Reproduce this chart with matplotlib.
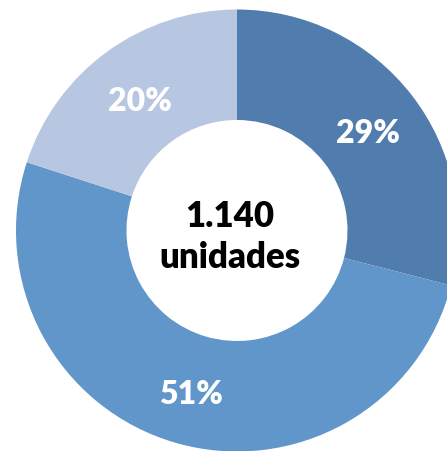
import matplotlib.pyplot as plt

shares = [29, 51, 20]
colors = ["#507DAD", "#6196CA", "#B7C7E1"]
total_label = "1.140\nunidades"

fig = plt.figure(figsize=(4.47, 4.51), dpi=100)
ax = fig.add_axes([0, 0, 1, 1])

wedges, texts, pcts = ax.pie(
    shares,
    colors=colors,
    startangle=90,
    counterclock=False,
    radius=221,
    center=(237, 220.5),
    autopct=lambda p: f"{p:.0f}%",
    pctdistance=0.75,
    wedgeprops=dict(width=110.5, linewidth=0),
    textprops=dict(color="white", fontsize=23, fontweight="heavy", family="Lato"),
)

# nudge the percent labels down a bit, like the original
for t in pcts:
    x, y = t.get_position()
    t.set_position((x, y - 5))

ax.text(230, 214, total_label, ha="center", va="center", fontsize=25,
        fontweight="heavy", family="Lato", linespacing=1.3, color="black")

ax.set_xlim(0, 447)
ax.set_ylim(0, 451)
ax.axis("off")

fig.savefig("out.png", dpi=100)
